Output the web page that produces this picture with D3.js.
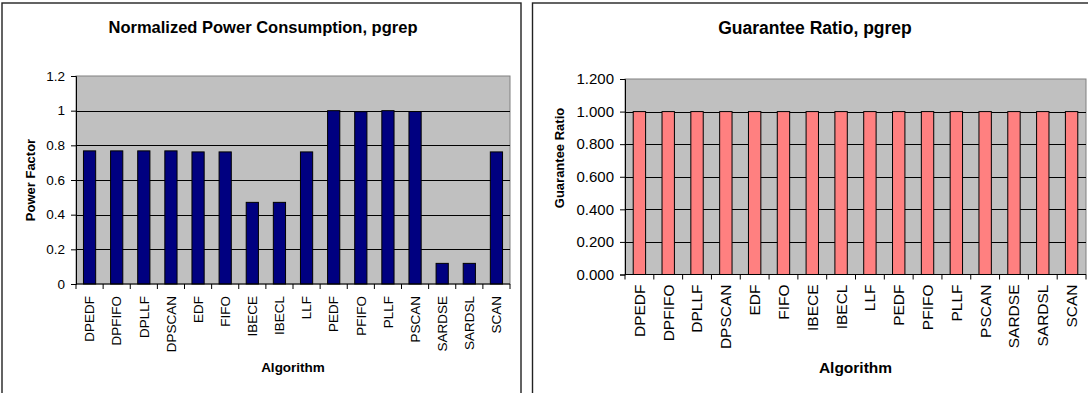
<!DOCTYPE html>
<html><head><meta charset="utf-8">
<script src="https://cdn.jsdelivr.net/npm/d3@7"></script>
<style>
body{margin:0;background:#fff;}
svg{display:block;font-family:"Liberation Sans",Arial,sans-serif;}
</style></head>
<body>
<svg id="c" width="1088" height="393"></svg>
<script>
const categories = ["DPEDF","DPFIFO","DPLLF","DPSCAN","EDF","FIFO","IBECE","IBECL","LLF","PEDF","PFIFO","PLLF","PSCAN","SARDSE","SARDSL","SCAN"];
const powerFactor = [0.768,0.768,0.768,0.768,0.762,0.762,0.471,0.471,0.762,1.0,0.994,1.0,0.995,0.119,0.119,0.762];
const guaranteeRatio = [1,1,1,1,1,1,1,1,1,1,1,1,1,1,1,1];
const leftTicks = [0,0.2,0.4,0.6,0.8,1,1.2];
const rightTicks = [0,0.2,0.4,0.6,0.8,1,1.2];

const svg = d3.select("#c");

function chart(o){
  const g = svg.append("g");
  g.append("rect").attr("x",o.box[0]).attr("y",o.box[1]).attr("width",o.box[2]).attr("height",o.box[3])
    .attr("fill","#fff").attr("stroke","#222").attr("stroke-width",1.4);
  const x = d3.scaleBand().domain(categories).range([o.px0,o.px1]).paddingInner(o.pad).paddingOuter(o.pad/2);
  const y = d3.scaleLinear().domain([0,1.2]).range([o.py1,o.py0]);
  g.append("rect").attr("x",o.px0).attr("y",o.py0).attr("width",o.px1-o.px0).attr("height",o.py1-o.py0)
    .attr("fill","#C0C0C0").attr("stroke","#808080").attr("stroke-width",1);
  g.append("g").selectAll("line").data(o.ticks.filter(t=>t>0 && t<1.2)).join("line")
    .attr("x1",o.px0).attr("x2",o.px1).attr("y1",d=>Math.round(y(d))+0.5).attr("y2",d=>Math.round(y(d))+0.5)
    .attr("stroke","#000").attr("stroke-width",1);
  g.append("g").selectAll("rect").data(o.values).join("rect")
    .attr("x",(d,i)=>x(categories[i])).attr("width",x.bandwidth())
    .attr("y",d=>y(d)).attr("height",d=>y(0)-y(d))
    .attr("fill",o.color).attr("stroke","#000").attr("stroke-width",1);
  const ya = d3.axisLeft(y).tickValues(o.ticks).tickFormat(o.fmt).tickSize(5).tickPadding(o.tickPad);
  const yg = g.append("g").attr("transform",`translate(${o.px0},0)`).call(ya);
  yg.select(".domain").attr("stroke","#000");
  yg.selectAll("text").attr("font-size",o.tickFont).attr("fill","#000").attr("font-family","Liberation Sans, Arial, sans-serif");
  const xa = d3.axisBottom(x).tickSize(0).tickPadding(0);
  const xg = g.append("g").attr("transform",`translate(0,${o.py1})`).call(xa);
  xg.select(".domain").attr("stroke","#000").attr("d",`M${o.px0},0H${o.px1}`);
  xg.selectAll("text").attr("font-size",o.catFont).attr("fill","#000").attr("font-family","Liberation Sans, Arial, sans-serif")
    .attr("transform","rotate(-90)").attr("text-anchor","end").attr("x",-o.catOff).attr("y",0).attr("dy","0.35em");
  const step = x.step();
  g.append("g").selectAll("line").data(d3.range(categories.length+1)).join("line")
    .attr("x1",i=>o.px0+i*step).attr("x2",i=>o.px0+i*step).attr("y1",o.py1).attr("y2",o.py1+5)
    .attr("stroke","#000");
  g.append("text").attr("x",o.titleX).attr("y",o.titleY).attr("text-anchor","middle")
    .attr("font-weight","bold").attr("font-size",o.titleFont).text(o.title);
  g.append("text").attr("x",(o.px0+o.px1)/2).attr("y",o.xTitleY).attr("text-anchor","middle")
    .attr("font-weight","bold").attr("font-size",o.xTitleFont).text("Algorithm");
  g.append("text").attr("transform",`translate(${o.yTitleX},${o.yTitleY}) rotate(-90)`).attr("text-anchor","middle")
    .attr("dy","0.35em").attr("font-weight","bold").attr("font-size",o.yTitleFont).text(o.yTitle);
}

chart({box:[2,3,519,400], px0:76, px1:510, py0:76, py1:284, pad:0.55, values:powerFactor, color:"#000080",
  ticks:leftTicks, fmt:d3.format(""), tickFont:13.5, tickPad:6, catFont:13.5, catOff:12,
  title:"Normalized Power Consumption, pgrep", titleX:263, titleY:33, titleFont:16.5,
  xTitleY:372, xTitleFont:13.5, yTitle:"Power Factor", yTitleX:30, yTitleY:180, yTitleFont:13});

chart({box:[532.5,3,570,400], px0:625, px1:1086, py0:79, py1:274.5, pad:0.57, values:guaranteeRatio, color:"#FF8080",
  ticks:rightTicks, fmt:d3.format(".3f"), tickFont:15, tickPad:6, catFont:15.5, catOff:10,
  title:"Guarantee Ratio, pgrep", titleX:815, titleY:34, titleFont:17.5,
  xTitleY:373, xTitleFont:15.5, yTitle:"Guarantee Ratio", yTitleX:559, yTitleY:158, yTitleFont:13});
</script>
</body></html>
